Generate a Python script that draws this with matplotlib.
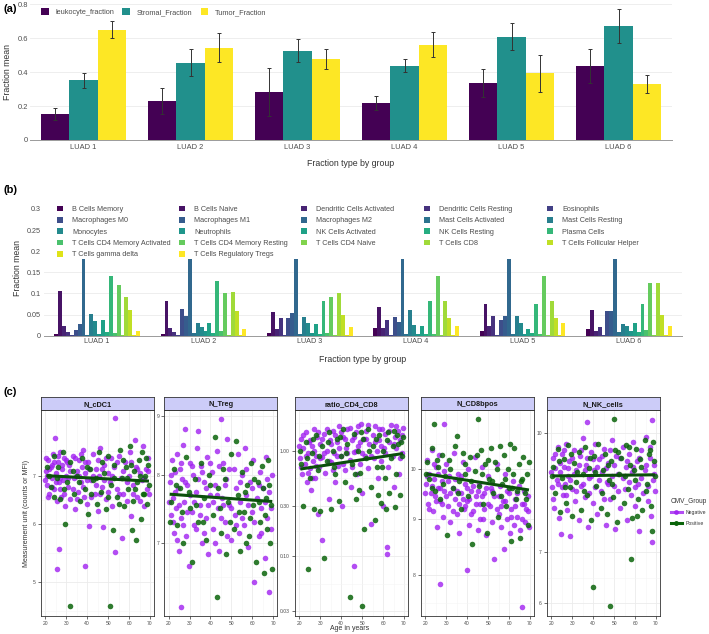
import matplotlib
matplotlib.use("Agg")
import matplotlib.pyplot as plt
import numpy as np
from matplotlib.lines import Line2D
from matplotlib.patches import Patch, Rectangle
from matplotlib.legend import Legend
from matplotlib.ticker import FixedLocator, NullFormatter

plt.rcParams['font.family'] = ['Liberation Sans', 'DejaVu Sans']

# ---------------- data: panel (a) ----------------
groups = ['LUAD 1', 'LUAD 2', 'LUAD 3', 'LUAD 4', 'LUAD 5', 'LUAD 6']
leuk_mean = [0.154, 0.231, 0.282, 0.216, 0.337, 0.435]
leuk_lo = [0.115, 0.154, 0.143, 0.176, 0.255, 0.334]
leuk_hi = [0.187, 0.305, 0.422, 0.259, 0.420, 0.533]
strom_mean = [0.351, 0.455, 0.524, 0.437, 0.608, 0.672]
strom_lo = [0.308, 0.378, 0.457, 0.400, 0.529, 0.573]
strom_hi = [0.392, 0.533, 0.596, 0.478, 0.686, 0.771]
tumor_mean = [0.647, 0.543, 0.475, 0.561, 0.392, 0.329]
tumor_lo = [0.602, 0.457, 0.420, 0.490, 0.284, 0.275]
tumor_hi = [0.698, 0.631, 0.533, 0.633, 0.502, 0.382]

# ---------------- data: panel (b) ----------------
cell_types = ['B Cells Memory', 'B Cells Naive', 'Dendritic Cells Activated',
              'Dendritic Cells Resting', 'Eosinophils', 'Macrophages M0',
              'Macrophages M1', 'Macrophages M2', 'Mast Cells Activated',
              'Mast Cells Resting', 'Monocytes', 'Neutrophils',
              'NK Cells Activated', 'NK Cells Resting', 'Plasma Cells',
              'T Cells CD4 Memory Activated', 'T Cells CD4 Memory Resting',
              'T Cells CD4 Naive', 'T Cells CD8', 'T Cells Follicular Helper',
              'T Cells gamma delta', 'T Cells Regulatory Tregs']
luad1_cells = [0.005, 0.105, 0.022, 0.008, 0.001, 0.013, 0.028, 0.20, 0.002, 0.051, 0.035,
               0.003, 0.036, 0.008, 0.142, 0.007, 0.119, 0.001, 0.091, 0.061, 0.001, 0.011]
luad2_cells = [0.004, 0.081, 0.019, 0.009, 0.001, 0.063, 0.047, 0.20, 0.006, 0.030, 0.021,
               0.012, 0.029, 0.006, 0.129, 0.010, 0.100, 0.001, 0.104, 0.059, 0.001, 0.016]
luad3_cells = [0.006, 0.057, 0.016, 0.042, 0.001, 0.043, 0.053, 0.20, 0.004, 0.044, 0.029,
               0.006, 0.028, 0.005, 0.082, 0.006, 0.091, 0.001, 0.100, 0.049, 0.001, 0.021]
luad4_cells = [0.018, 0.068, 0.018, 0.037, 0.001, 0.045, 0.033, 0.20, 0.004, 0.061, 0.026,
               0.004, 0.022, 0.004, 0.081, 0.004, 0.142, 0.001, 0.082, 0.042, 0.001, 0.023]
luad5_cells = [0.011, 0.075, 0.023, 0.046, 0.001, 0.038, 0.047, 0.20, 0.004, 0.047, 0.031,
               0.005, 0.017, 0.006, 0.075, 0.004, 0.141, 0.001, 0.083, 0.042, 0.001, 0.031]
luad6_cells = [0.017, 0.060, 0.010, 0.020, 0.001, 0.059, 0.059, 0.20, 0.008, 0.028, 0.022,
               0.012, 0.031, 0.008, 0.075, 0.014, 0.124, 0.001, 0.125, 0.049, 0.001, 0.024]

# ---------------- data: panel (c) (age, value) ----------------
cdc1_neg = [(20.5,7.1),(21,6.8),(21.5,7.35),(22,6.6),(22.5,7.2),(23,6.95),(23.5,7.5),(24,6.7),
            (24.5,7.9),(25,7.05),(25.5,6.45),(26,7.3),(26.5,6.85),(27,7.55),(27.5,6.55),(28,7.15),
            (28.5,6.9),(29,7.4),(29.5,6.35),(30,7.0),(31,6.75),(31.5,7.25),(32,6.5),(33,7.45),
            (33.5,6.95),(34,6.3),(35,7.1),(35.5,6.65),(36,7.35),(37,6.85),(38,7.6),(38.5,6.55),
            (39,7.05),(40,6.4),(40.5,7.3),(41,5.97),(42,6.9),(43,7.5),(43.5,6.6),(44,7.15),
            (45,6.25),(45.5,7.0),(46,7.65),(47,6.75),(47.5,5.95),(48,7.25),(49,6.5),(50,7.05),
            (51,6.85),(51.5,7.4),(52,6.35),(53,7.2),(53.5,5.5),(54,6.7),(55,7.45),(56,6.95),
            (56.5,5.75),(57,6.6),(58,7.3),(59,6.45),(60,7.0),(60.5,7.55),(61,6.15),(62,6.8),
            (63,7.85),(63.5,7.2),(64,6.55),(65,7.05),(66,6.9),(66.5,7.7),(67,6.35),(68,7.15),
            (68.5,6.7),(69,7.4),(69.5,6.6),(25.5,5.2),(26.5,5.55),(39,5.25),(53.5,8.4),
            (21,7.0),(23,7.25),(27,6.95),(30.5,7.3),(34.5,7.0),(37.5,7.2),
            (20,6.9),(20.5,7.4),(21.5,6.55),(22,7.15),(23,6.75),(24,7.3),(25,6.85),(26,7.45),
            (27,6.7),(28,7.25),(29,6.6),(30,7.35),(31,6.95),(32,7.1),(33,6.7),(34,7.4),(35,6.5),
            (36,7.0),(37,7.5),(38,6.75),(39,7.3),(40,6.9),(41,7.15),(42,6.55),(43,7.0),(44,6.8),
            (45,7.35),(46,6.6),(47,7.15),(48,6.9),(49,7.4),(50,6.65),(52,7.0),(54,7.3),(55,6.6),
            (57,7.1),(59,6.85),(61,7.3),(62,6.6),(64,7.15),(65,6.45),(67,6.95),(69,7.1)]
cdc1_pos = [(21,7.2),(22.5,6.75),(24,7.45),(25.5,6.95),(27,6.5),(28.5,7.55),(29.5,6.0),(30.5,6.85),
            (32,7.3),(32,4.63),(33.5,6.6),(35,7.0),(36.5,6.45),(37.5,7.4),(39,6.7),(40.5,6.2),
            (41.5,7.15),(43,6.9),(44.5,6.4),(45.5,7.55),(46.5,6.65),(48,7.05),(49,6.3),(50,7.45),
            (51,4.63),(51.5,6.8),(52.5,5.9),(53,7.25),(54,6.55),(55.5,7.6),(56.5,6.95),(57.5,6.35),
            (58.5,7.2),(59.5,6.7),(60.5,7.7),(61.5,5.9),(62,6.45),(62.5,7.1),(63.5,5.7),(64,6.85),
            (64.5,7.35),(65.5,6.1),(66,7.55),(66.5,6.6),(67.5,7.0),(68.5,6.4),(69,7.25),(69.5,6.8),
            (22,7.0),(26,7.2),(29,6.7),(33,7.1),(36,6.85),(40,7.2),(44,6.95),(47,7.3),(50,6.55),
            (53,6.95),(55,6.4),(57,7.35),(59,6.95),(61,7.25),(63,6.7),(65,7.0),(67,6.6),(68,7.4),
            (24,6.55),(42,6.6)]
treg_neg = [(20.5,7.9),(21,7.4),(21.5,8.25),(22,7.65),(22.5,7.15),(23,8.05),(23.5,7.5),(24,8.35),
            (24.5,7.8),(25,6.9),(25.5,8.1),(26,7.35),(26.5,7.95),(27,8.5),(27.5,7.6),(28,8.76),
            (28.5,7.1),(29,7.85),(29.5,6.7),(30,8.2),(31,7.45),(31.5,8.0),(32,7.25),(33,7.75),
            (33.5,8.45),(34,8.73),(35,7.55),(35.5,8.15),(36,7.0),(37,7.9),(38,7.35),(38.5,8.3),
            (39,6.85),(40,7.7),(40.5,8.05),(41,7.2),(42,7.85),(43,8.4),(43.5,7.5),(44,6.9),
            (45,8.94),(45.5,7.65),(46,8.2),(47,7.3),(47.5,7.95),(48,8.6),(49,7.55),(50,7.05),
            (51,8.1),(51.5,7.4),(52,7.8),(53,8.35),(53.5,7.15),(54,7.6),(55,8.0),(56,7.25),
            (56.5,8.45),(57,7.7),(58,6.95),(59,7.9),(60,7.45),(60.5,8.25),(61,6.49),(62,7.65),
            (63,7.1),(63.5,8.05),(64,7.5),(65,7.8),(66,6.8),(66.5,8.3),(67,7.35),(68,7.75),
            (68,6.36),(69,7.2),(69.5,8.0),(26,6.18),
            (20,7.6),(21,8.0),(22,7.3),(23,7.75),(24,7.05),(25,7.55),(26,8.2),(27,7.25),(28,7.9),
            (29,7.45),(30,7.7),(31,8.15),(32,7.6),(33,7.2),(34,7.95),(35,7.4),(36,8.05),(37,7.15),
            (38,7.8),(39,7.55),(40,8.2),(41,7.6),(42,7.0),(43,7.7),(44,8.15),(45,7.35),(46,7.55),
            (47,7.85),(48,7.1),(49,8.1),(50,7.5),(52,7.25),(54,7.9),(55,7.35),(57,8.1),(58,7.55),
            (60,7.8),(61,7.3),(63,7.85),(64,7.15),(66,7.6),(67,7.95),(69,7.5)]
treg_pos = [(21,7.6),(22.5,8.1),(24,7.25),(25.5,7.8),(27,7.0),(28.5,8.3),(30,7.5),(31,6.75),
            (32.5,7.95),(34,7.3),(35.5,8.2),(37,7.65),(38,7.05),(39.5,8.0),(41,7.4),(42,8.63),
            (43,6.30),(43.5,7.8),(45,7.15),(46,8.1),(47.5,6.85),(48.5,7.6),(50,8.35),(51,7.2),
            (52,8.56),(53,7.7),(54,6.9),(55,8.05),(56,7.45),(57.5,7.85),(58.5,7.1),(59.5,8.2),
            (60.5,7.55),(61.5,6.75),(62.5,7.9),(63.5,7.3),(64.5,8.15),(65.5,6.6),(66.5,7.65),
            (67.5,8.25),(68.5,7.0),(69.5,6.65),(66,7.4),
            (20.5,7.3),(23.5,7.85),(26.5,7.45),(29.5,7.75),(33,7.55),(36.5,7.3),(40,7.85),
            (44.5,7.5),(47,7.95),(49.5,7.3),(53.5,7.45),(56.5,7.75),(59,7.35),(61,7.95),(63,7.6),
            (65,7.8),(67,7.2),(69,7.55),(68,7.85),(57,7.0)]
ratio_neg = [(20.5,0.85),(21,1.3),(21.5,0.6),(22,1.05),(22.5,0.75),(23,1.5),(23.5,0.5),(24,0.95),
             (24.5,1.2),(25,0.68),(25.5,0.42),(26,1.1),(26.5,0.8),(27,1.6),(27.5,0.55),(28,0.9),
             (28.5,1.35),(29,0.25),(29.5,0.7),(30,1.15),(31,0.142),(31,0.88),(32,1.45),(32.5,0.62),
             (33,1.0),(34,0.35),(34.5,1.25),(35,0.78),(36,1.55),(36.5,0.95),(37,0.5),(38,1.2),
             (38.5,0.72),(39,1.7),(40,0.9),(40.5,0.3),(41,1.35),(42,0.65),(42.5,1.05),(43,1.6),
             (44,0.82),(44.5,0.45),(45,1.25),(46,0.081),(46,0.98),(47,1.5),(47.5,0.6),(48,1.1),
             (49,0.75),(49.5,1.8),(50,0.4),(51,1.3),(51.5,0.9),(52,1.55),(53,0.68),(53.5,1.15),
             (54,0.2),(55,1.4),(55.5,0.85),(56,1.7),(57,1.0),(57.5,0.55),(58,1.25),(59,0.8),
             (59.5,1.6),(60,0.3),(60.5,1.05),(61,1.45),(62,0.123),(62,0.106),(62.5,0.7),(63,1.2),
             (64,1.75),(64.5,0.9),(65,0.45),(65.5,1.35),(66,1.05),(67,1.55),(67.5,0.6),(68,1.25),
             (69,0.95),(69.5,1.65),
             (20,1.1),(21,0.7),(22,1.4),(23,0.9),(24,0.62),(25,1.25),(26,0.55),(27,1.0),(28,0.72),
             (29,1.5),(30,0.85),(31,1.3),(32,0.95),(33,1.6),(34,0.8),(35,1.15),(36,0.65),(37,1.4),
             (38,0.9),(39,1.05),(40,1.5),(41,0.75),(42,1.3),(43,0.95),(44,1.65),(45,0.7),(46,1.35),
             (47,1.0),(48,1.7),(49,1.2),(50,0.95),(52,1.3),(53,1.75),(54,0.9),(56,1.2),(58,1.6),
             (59,1.1),(61,0.95),(63,1.55),(65,1.15),(66,1.7),(68,0.85),(69,1.4)]
ratio_pos = [(21,0.75),(22,0.3),(23,1.2),(24,0.075),(25,0.55),(26,0.95),(27,0.28),(28,1.4),
             (29,0.65),(30,0.27),(31,1.1),(32,0.097),(33,0.8),(34,1.5),(35,0.28),(36,1.0),
             (37,0.6),(38,1.3),(39,0.33),(40,0.9),(41,1.6),(42,0.5),(43,1.15),(44,0.041),
             (45,0.75),(46,1.45),(47,0.35),(48,1.0),(49,0.62),(50,0.034),(50.5,1.3),(51,0.18),
             (52,0.85),(53,1.6),(54,0.45),(55,1.1),(56,0.22),(57,0.7),(58,1.4),(59,0.32),
             (60,1.0),(61,0.55),(62,1.25),(63,0.4),(64,0.85),(65,1.55),(65.5,0.29),(66,0.6),
             (67,1.15),(68,0.38),(69,0.9),(69.5,1.35),
             (20.5,1.0),(23.5,0.85),(26.5,1.3),(29.5,0.9),(33.5,1.2),(36.5,0.7),(39.5,1.35),
             (42.5,0.95),(46.5,0.6),(49.5,1.5),(53.5,1.0),(56.5,1.3),(59.5,0.7),(62.5,1.5),
             (64.5,1.1),(66.5,1.4),(68.5,1.2),(61.5,0.28),(57.5,0.38),(48.5,0.42)]
cd8_neg = [(20.5,9.7),(21,10.2),(21.5,9.3),(22,9.9),(22.5,9.5),(23,10.4),(23.5,9.15),(24,9.8),
           (24.5,9.45),(25,10.05),(25.5,8.85),(26,9.6),(26.5,10.3),(27,7.85),(27,9.35),(28,9.75),
           (28.5,9.05),(29,10.99),(29,9.55),(30,10.1),(31,9.25),(31.5,9.85),(32,8.95),(33,9.6),
           (33.5,10.35),(34,9.4),(35,9.1),(35.5,9.9),(36,8.75),(37,9.5),(38,10.15),(38.5,9.2),
           (39,9.7),(40,8.09),(40,9.35),(40.5,10.0),(41,8.9),(42,9.55),(43,9.15),(43.5,10.25),
           (44,9.45),(45,8.8),(45.5,9.7),(46,9.3),(47,10.05),(47.5,9.0),(48,9.5),(49,8.7),
           (50,9.85),(51,9.25),(51.5,9.6),(52,8.95),(53,8.28),(53,9.45),(54,10.1),(55,9.1),
           (55.5,9.65),(56,8.85),(57,9.35),(57.5,8.45),(58,9.9),(59,9.0),(60,9.5),(60.5,8.75),
           (61,9.2),(62,9.75),(62.5,8.9),(63,9.4),(64,9.05),(64.5,9.65),(65,8.8),(66,9.3),
           (66,7.49),(67,9.55),(67.5,8.95),(68,9.2),(69,9.45),(69.5,8.85),
           (20,9.5),(21,9.85),(22,9.2),(23,9.65),(24,10.1),(25,9.35),(26,9.9),(27,9.6),(28,9.3),
           (29,9.95),(30,9.45),(31,9.75),(32,9.5),(33,9.15),(34,9.8),(35,9.55),(36,9.3),(37,9.85),
           (38,9.4),(39,9.25),(40,9.6),(41,9.4),(42,9.1),(43,9.65),(44,9.3),(45,9.55),(46,9.0),
           (47,9.45),(48,9.2),(49,9.6),(50,9.3),(52,9.55),(54,9.2),(55,9.45),(56,9.25),(58,9.35),
           (59,9.55),(61,9.05),(63,9.25),(64,9.5),(66,9.0),(67,9.3),(69,9.15)]
cd8_pos = [(21,10.15),(22,9.8),(23,10.45),(24,10.99),(24.5,9.55),(26,10.05),(27,9.4),(28,10.3),
           (29.5,9.85),(30.5,8.7),(31.5,10.2),(33,9.6),(34,10.5),(35,10.72),(36,9.75),(37,9.2),
           (38,10.35),(39,9.9),(40.5,9.45),(41.5,10.25),(42.5,8.55),(43.5,9.95),(45,11.11),
           (45.5,9.65),(46.5,10.4),(47.5,9.3),(48.5,10.1),(49.5,8.75),(50.5,9.8),(51.5,10.45),
           (52.5,9.5),(53.5,10.15),(54.5,9.05),(55.5,10.5),(56.5,9.7),(57.5,10.3),(58.5,9.25),
           (59.5,10.0),(60.5,10.55),(61,8.6),(61.5,9.6),(62.5,10.45),(63.5,9.4),(64.5,10.1),
           (65,8.65),(65.5,9.75),(66.5,10.25),(67.5,9.5),(68.5,9.9),(69,8.9),(69.5,10.15),
           (20.5,9.9),(23,9.6),(25.5,10.2),(28.5,9.7),(32,10.0),(35.5,9.5),(39,10.1),(42,9.75),
           (44.5,10.3),(47,9.9),(50,10.2),(52,9.75),(54,10.0),(56,9.45),(58,9.8),(60,9.6),
           (62,9.9),(64,9.55),(66,9.8),(68,9.4)]
nk_neg = [(20.5,8.5),(21,9.3),(21.5,8.0),(22,9.0),(22.5,8.7),(23,9.6),(23.5,7.75),(24,8.9),
          (24.5,7.4),(25,9.4),(25.5,8.3),(26,9.05),(26.5,8.6),(27,9.7),(27.5,7.95),(28,8.8),
          (28.5,9.2),(29,7.35),(30,8.45),(31,9.5),(31.5,8.15),(32,8.95),(33,7.7),(33.5,9.35),
          (34,8.55),(35,9.85),(36,8.25),(36.5,9.1),(37,10.36),(37.5,7.55),(38,8.75),(39,9.45),
          (40,8.1),(40.5,8.95),(41,9.7),(42,7.85),(43,9.25),(43.5,8.4),(44,8.9),(45,9.55),
          (46,7.6),(46.5,8.65),(47,9.15),(48,8.2),(49,9.8),(50,8.55),(50.5,7.5),(51,9.35),
          (52,8.85),(53,8.0),(54,9.6),(55,8.45),(55.5,9.05),(56,7.7),(57,9.4),(58,8.3),
          (58.5,8.9),(59,9.75),(60,8.05),(61,9.2),(61.5,8.6),(62,7.45),(63,9.5),(64,8.35),
          (64.5,8.95),(65,9.9),(66,8.15),(67,9.3),(67.5,7.8),(68,10.41),(68,7.22),(68.5,8.7),
          (69,9.1),(69.5,8.4),
          (20,8.9),(21,8.2),(22,9.4),(23,8.6),(24,9.15),(25,8.5),(26,9.5),(27,8.3),(28,9.0),
          (29,8.7),(30,9.3),(31,8.85),(32,8.4),(33,9.1),(34,9.5),(35,8.6),(36,8.95),(37,9.3),
          (38,8.35),(39,8.8),(40,9.25),(41,8.5),(42,9.05),(43,8.7),(44,9.35),(45,8.2),(46,9.0),
          (47,8.6),(48,9.5),(49,8.8),(50,9.1),(52,8.4),(53,9.3),(54,8.75),(56,9.2),(57,8.65),
          (59,9.05),(60,8.5),(62,9.3),(63,8.75),(65,9.1),(66,8.55),(67,9.6),(69,8.85)]
nk_pos = [(21,9.05),(22,8.35),(23,9.55),(24,7.9),(25,8.75),(26,9.25),(27,8.1),(28,9.65),
          (29,8.5),(30,7.8),(31,9.15),(32,8.65),(33,9.45),(34,7.95),(35,8.85),(36,9.6),
          (37,8.3),(38,9.0),(39,7.7),(40,6.30),(40.5,9.35),(41.5,8.55),(42.5,9.7),(43.5,8.0),
          (44.5,8.95),(45.5,9.4),(46.5,7.85),(47.5,8.7),(48,5.95),(48.5,9.2),(49.5,8.25),
          (50,10.44),(50.5,9.5),(51.5,7.65),(52.5,8.85),(53.5,9.3),(54.5,8.1),(55.5,9.65),
          (56.5,8.45),(57.5,9.1),(58,6.86),(58.5,7.75),(59.5,8.95),(60.5,9.55),(61.5,8.2),
          (62.5,9.25),(63.5,7.95),(64.5,9.8),(65.5,8.6),(66.5,9.4),(67.5,8.05),(68,7.46),
          (68.5,9.75),(69.5,8.8),
          (20.5,8.8),(23.5,9.2),(26.5,8.5),(29.5,9.4),(32.5,8.9),(35.5,8.4),(38.5,9.3),(41,8.9),
          (44,8.35),(47,9.1),(49,8.6),(52,9.45),(55,8.8),(57,9.6),(60,8.7),(63,9.05),(65,8.4),
          (67,9.5),(69,9.2),(61,7.8)]

# fitted line ends (age 20.5 -> 69.5)
trend_ages = [20.5, 69.5]
cdc1_trend = [7.0, 6.88]
treg_trend = [7.71, 7.60]
ratio_trend = [0.67, 0.94]
cd8_trend = [9.90, 9.57]
nk_trend = [8.80, 8.83]

# ---------------- layout helpers ----------------
W, H = 709, 634
fig = plt.figure(figsize=(W / 100, H / 100), dpi=100)


def px_box(x0, y0, x1, y1):
    return [x0 / W, 1 - y1 / H, (x1 - x0) / W, (y1 - y0) / H]


def ftext(x, y, s, **kw):
    return fig.text(x / W, 1 - y / H, s, **kw)


tick_col = '#4D4D4D'
title_col = '#333333'
grid_col = '#EBEBEB'

# ================= panel (a) =================
axa = fig.add_axes(px_box(30, 3, 672, 140))
x = np.arange(len(groups))
bw = 0.267
vir3 = ['#440154', '#21908C', '#FDE725']
series_a = [('leukocyte_fraction', leuk_mean, leuk_lo, leuk_hi),
            ('Stromal_Fraction', strom_mean, strom_lo, strom_hi),
            ('Tumor_Fraction', tumor_mean, tumor_lo, tumor_hi)]
for k, (name, m, lo, hi) in enumerate(series_a):
    m = np.array(m)
    err = [m - np.array(lo), np.array(hi) - m]
    axa.bar(x + (k - 1) * bw, m, bw, color=vir3[k], label=name, zorder=2)
    axa.errorbar(x + (k - 1) * bw, m, yerr=err, fmt='none', ecolor='#333333',
                 elinewidth=0.7, capsize=1.6, capthick=0.7, zorder=3)
axa.set_xlim(-0.5, 5.5)
axa.set_ylim(0, 0.806)
axa.set_yticks([0, 0.2, 0.4, 0.6, 0.8])
axa.set_yticklabels(['0', '0.2', '0.4', '0.6', '0.8'])
axa.set_xticks(x)
axa.set_xticklabels(groups)
axa.yaxis.grid(True, color=grid_col, lw=0.6, zorder=0)
axa.set_axisbelow(True)
for s in ['top', 'right', 'left']:
    axa.spines[s].set_visible(False)
axa.spines['bottom'].set_color('#9A9A9A')
axa.spines['bottom'].set_linewidth(0.7)
axa.tick_params(axis='both', length=0, labelsize=5.4, colors=tick_col, pad=3)
axa.tick_params(axis='y', pad=1.5)
ftext(8, 72, 'Fraction mean', fontsize=6.3, color=title_col, rotation=90, ha='center', va='center')
ftext(351, 163, 'Fraction type by group', fontsize=6.3, color=title_col, ha='center', va='center')
lega = axa.legend(loc='upper left', bbox_to_anchor=(36 / W, 1 - 3 / H),
                  bbox_transform=fig.transFigure, ncol=3, fontsize=5.3, frameon=True,
                  facecolor='white', edgecolor='none', framealpha=1, borderpad=0.2,
                  handlelength=1.0, handleheight=1.0, handletextpad=0.9, columnspacing=1.15)
for t in lega.get_texts():
    t.set_color(tick_col)

# ================= panel (b) =================
axb = fig.add_axes(px_box(44, 203, 682, 335.7))
cell_groups = [luad1_cells, luad2_cells, luad3_cells, luad4_cells, luad5_cells, luad6_cells]
vals_b = np.array(cell_groups)
ncell = len(cell_types)
cw = 0.805 / ncell
cols22 = [plt.cm.viridis(i / (ncell - 1)) for i in range(ncell)]
for i in range(ncell):
    axb.bar(x + (i - (ncell - 1) / 2) * cw, vals_b[:, i], cw, color=cols22[i],
            linewidth=0, zorder=2)
axb.set_xlim(-0.5, 5.5)
axb.set_ylim(0, 0.314)
axb.set_yticks([0, 0.05, 0.1, 0.15, 0.2, 0.25, 0.3])
axb.set_yticklabels(['0', '0.05', '0.1', '0.15', '0.2', '0.25', '0.3'])
axb.set_xticks(x)
axb.set_xticklabels(groups)
axb.yaxis.grid(True, color=grid_col, lw=0.6, zorder=0)
axb.set_axisbelow(True)
for s in ['top', 'right', 'left']:
    axb.spines[s].set_visible(False)
axb.spines['bottom'].set_color('#9A9A9A')
axb.spines['bottom'].set_linewidth(0.7)
axb.tick_params(axis='both', length=0, labelsize=5.2, colors=tick_col, pad=2)
axb.tick_params(axis='y', pad=2)
ftext(18, 268, 'Fraction mean', fontsize=6.3, color=title_col, rotation=90, ha='center', va='center')
ftext(363, 359, 'Fraction type by group', fontsize=6.3, color=title_col, ha='center', va='center')
# white legend background hides the tops of the tall bars, as in the original
axb.add_patch(Rectangle((-0.5, 0.181), 6, 0.2, facecolor='white', edgecolor='none', zorder=3))

handles_b = [Patch(facecolor=cols22[i], label=cell_types[i]) for i in range(ncell)]
col_x = [53, 175, 297, 420, 543]
for c in range(5):
    idx = list(range(c, ncell, 5))
    lg = Legend(axb, [handles_b[j] for j in idx], [cell_types[j] for j in idx],
                loc='upper left', bbox_to_anchor=(col_x[c] / W, 1 - 202 / H),
                bbox_transform=fig.transFigure, fontsize=5.2, frameon=False, borderpad=0,
                handlelength=0.85, handleheight=0.85, handletextpad=1.3, labelspacing=0.55)
    for t in lg.get_texts():
        t.set_color(tick_col)
    lg.set_zorder(5)
    axb.add_artist(lg)

# ================= panel (c) =================
purple = '#A020F0'
green = '#0A640A'
facets = [
    ('N_cDC1', cdc1_neg, cdc1_pos, cdc1_trend, (4.49, 8.62), [5, 6, 7], ['5', '6', '7'], 40.7, 154),
    ('N_Treg', treg_neg, treg_pos, treg_trend, (6.07, 9.10), [7, 8, 9], ['7', '8', '9'], 164, 277.3),
    ('ratio_CD4_CD8', ratio_neg, ratio_pos, ratio_trend, (0.0273, 2.43), [0.03, 0.1, 0.3, 1.0],
     ['0.03', '0.10', '0.30', '1.00'], 294.7, 408),
    ('N_CD8bpos', cd8_neg, cd8_pos, cd8_trend, (7.35, 11.32), [8, 9, 10], ['8', '9', '10'], 420.7, 534),
    ('N_NK_cells', nk_neg, nk_pos, nk_trend, (5.78, 10.73), [6, 7, 10], ['6', '7', '10'], 546.7, 660),
]
for name, neg, pos, trend, ylim, yt, ytl, x0, x1 in facets:
    ax = fig.add_axes(px_box(x0, 410, x1, 615.7))
    ax.set_yscale('log')
    neg = np.array(neg)
    pos = np.array(pos)
    ax.scatter(neg[:, 0], neg[:, 1], s=16, color=purple, alpha=0.8, linewidths=0, zorder=2)
    ax.scatter(pos[:, 0], pos[:, 1], s=16, color=green, alpha=0.85, linewidths=0, zorder=2)
    ax.plot(trend_ages, trend, color='#0B4F0B', lw=2.2, solid_capstyle='butt', zorder=3)
    ax.set_xlim(17.8, 71.9)
    ax.set_ylim(*ylim)
    ax.set_xticks([20, 30, 40, 50, 60, 70])
    ax.set_xticks([25, 35, 45, 55, 65], minor=True)
    ax.set_yticks(yt)
    ax.set_yticklabels(ytl)
    minors = [np.sqrt(yt[k] * yt[k + 1]) for k in range(len(yt) - 1)]
    minors = [yt[0] * np.sqrt(yt[0] / yt[1])] + minors + [yt[-1] * np.sqrt(yt[-1] / yt[-2])]
    ax.yaxis.set_minor_locator(FixedLocator(minors))
    ax.yaxis.set_minor_formatter(NullFormatter())
    ax.grid(True, which='major', color=grid_col, lw=0.6, zorder=0)
    ax.grid(True, which='minor', color='#F5F5F5', lw=0.4, zorder=0)
    ax.set_axisbelow(True)
    ax.tick_params(which='major', length=2, width=0.5, color='#333333', labelsize=3.6,
                   labelcolor=tick_col, pad=1.5)
    ax.tick_params(which='minor', length=0)
    for s in ax.spines.values():
        s.set_color('#333333')
        s.set_linewidth(0.6)
    sax = fig.add_axes(px_box(x0, 397.3, x1, 410))
    sax.set_facecolor('#CCCCF8')
    sax.set_xticks([])
    sax.set_yticks([])
    for s in sax.spines.values():
        s.set_color('#333333')
        s.set_linewidth(0.6)
    sax.text(0.5, 0.45, name, ha='center', va='center', fontsize=5.3, fontweight='bold',
             color='#1A1A1A', transform=sax.transAxes)
    last_ax = ax

ftext(350, 629, 'Age in years', ha='center', va='center', fontsize=5.0, color=title_col)
ftext(27, 513, 'Measurement unit (counts or MFI)', ha='center', va='center',
      fontsize=5.0, color=title_col, rotation=90)
leg_c = last_ax.legend(handles=[Line2D([], [], color=purple, marker='o', lw=2.2, ms=2.5, alpha=0.8),
                                Line2D([], [], color=green, marker='o', lw=2.2, ms=2.5)],
                       labels=['Negative', 'Positive'], title='CMV_Group', loc='upper left',
                       bbox_to_anchor=(668 / W, 1 - 495 / H), bbox_transform=fig.transFigure,
                       fontsize=3.7, title_fontsize=4.7, frameon=False, borderpad=0,
                       handlelength=2.2, handletextpad=0.8, labelspacing=1.1)
leg_c._legend_box.align = 'left'
for t in leg_c.get_texts():
    t.set_color(title_col)
leg_c.get_title().set_color(title_col)

# panel letters
for lab, yy in [('(a)', 9), ('(b)', 190), ('(c)', 392)]:
    ftext(3, yy, lab, ha='left', va='center', fontsize=8, fontweight='bold')

fig.savefig('out.png', dpi=100)
